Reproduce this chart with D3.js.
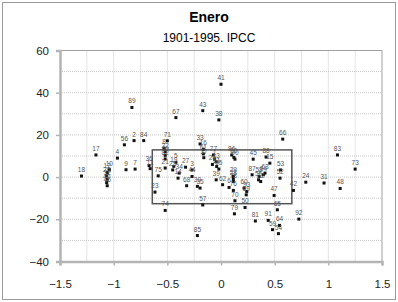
<!DOCTYPE html>
<html>
<head>
<meta charset="utf-8">
<script src="https://cdn.jsdelivr.net/npm/d3@7"></script>
<style>
    body { margin: 0; background: #fff; }
    svg { display: block; font-family: "Liberation Sans", Arial, sans-serif; }
</style>
</head>
<body>
<svg id="chart" width="398" height="302"></svg>
<script>
// year index (1 = 1901 ... 95 = 1995); label of each point is its index + 1
let tempX = [
    -0.06, -0.81, -0.27, -0.965, -0.42, 0.075, -0.80, -0.53, -0.885, -1.04,
    -0.66, -1.06, -0.045, -0.40, 0.455, -0.165, -1.165, -1.30, -0.44, -0.08,
    -0.52, -0.52, -0.615, 0.79, -0.45, -1.065, -0.33, 0.115, 0.115, -0.22,
    0.96, -1.06, -0.195, -0.39, -0.195, -0.67, -0.16, -0.02, -0.045, -1.065,
    0.0, 0.675, -0.17, -0.27, 0.30, -1.06, 0.495, 1.11, -0.52, 0.224,
    -0.04, 0.55, 0.555, 0.535, 0.35, -0.90, -0.17, 0.355, 0.48, 0.215,
    -0.165, 0.015, 0.41, 0.545, 0.525, 0.575, -0.42, -0.32, 0.235, 0.13,
    -0.50, 0.37, 1.25, -0.52, -0.585, 0.115, -0.07, 0.115, 0.125, 0.12,
    0.32, -0.52, 1.085, -0.72, -0.22, 0.10, 0.29, 0.42, -0.83, 0.13,
    0.44, 0.725, 0.24, 0.395, -0.02
];
let precipY = [
    8.5, 17.3, 3.4, 9.0, 7.0, -4.9, 3.8, 13.7, 3.5, 3.5,
    4.0, 2.2, 7.2, -0.5, 6.6, 13.2, 10.5, 0.5, 5.1, 6.0,
    4.3, 12.0, -7.1, -2.4, 3.4, 0.6, 4.7, -1.0, 0.3, -4.4,
    -2.8, -1.0, 15.7, 1.9, -5.2, 5.5, 9.2, 27.1, -1.3, -2.6,
    44.0, -6.3, 31.5, 0.3, 8.5, -4.1, -8.7, -5.4, 10.3, -14.4,
    5.0, -0.5, 3.4, -26.8, -1.3, 15.3, -13.2, 0.3, -24.9, -5.2,
    11.0, -3.6, 1.9, -22.9, -15.5, 18.0, 28.2, -4.1, -8.4, -11.2,
    17.2, -2.1, 3.8, -15.8, 0.6, -6.3, 10.5, -2.1, -17.4, 9.3,
    -20.8, 8.6, 10.5, 17.3, -27.7, 10.5, 1.1, 9.5, 33.0, 8.5,
    -20.5, -19.9, -6.8, 1.1, 3.8
];

let xTicks = [-1.5, -1, -0.5, 0, 0.5, 1, 1.5];
let yTicks = [-40, -20, 0, 20, 40, 60];
let xGrid = [-1.25, -1, -0.75, -0.5, -0.25, 0, 0.25, 0.5, 0.75, 1, 1.25];
let yGrid = [-30, -20, -10, 0, 10, 20, 30, 40, 50];

// box drawn round the central cloud
let boxX = [-0.64, 0.66];
let boxY = [-12.6, 12.9];

let title = 'Enero';
let subtitle = '1901-1995. IPCC';

let svg = d3.select('#chart');

let x = d3.scaleLinear().domain([-1.5, 1.5]).range([60, 382]);
let y = d3.scaleLinear().domain([-40, 60]).range([261.5, 50.5]);

// outer frame
svg.append('rect')
    .attr('x', 2.5).attr('y', 2.5)
    .attr('width', 393).attr('height', 297)
    .attr('fill', 'none')
    .attr('stroke', '#9a9a9a');

svg.append('text')
    .attr('x', 209).attr('y', 22)
    .attr('text-anchor', 'middle')
    .attr('font-size', 14).attr('font-weight', 'bold')
    .text(title);

svg.append('text')
    .attr('x', 209).attr('y', 41.5)
    .attr('text-anchor', 'middle')
    .attr('font-size', 12)
    .text(subtitle);

// dotted grid
svg.append('g')
    .selectAll('line')
    .data(xGrid)
    .join('line')
    .attr('x1', d => x(d)).attr('x2', d => x(d))
    .attr('y1', y(60)).attr('y2', y(-40))
    .attr('stroke', '#c8c8c8')
    .attr('stroke-dasharray', '1,1');

svg.append('g')
    .selectAll('line')
    .data(yGrid)
    .join('line')
    .attr('x1', x(-1.5)).attr('x2', x(1.5))
    .attr('y1', d => y(d)).attr('y2', d => y(d))
    .attr('stroke', '#c8c8c8')
    .attr('stroke-dasharray', '1,1');

// top and right border
svg.append('path')
    .attr('d', `M${x(-1.5)},${y(60)}H${x(1.5)}V${y(-40)}`)
    .attr('fill', 'none')
    .attr('stroke', '#a0a0a0');

// axes
let xAxis = svg.append('g')
    .attr('transform', `translate(0,${y(-40)})`)
    .call(d3.axisBottom(x).tickValues(xTicks).tickSize(4).tickPadding(14).tickFormat(d3.format('')));

let yAxis = svg.append('g')
    .attr('transform', `translate(${x(-1.5)},0)`)
    .call(d3.axisLeft(y).tickValues(yTicks).tickSize(4).tickPadding(7));

[xAxis, yAxis].forEach(a => {
    a.select('.domain').attr('stroke', '#b4b4b4').attr('stroke-width', 2.5);
    a.selectAll('.tick line').attr('stroke', '#b4b4b4').attr('stroke-width', 1.5);
    a.selectAll('.tick text')
        .attr('font-size', 11.5)
        .attr('font-family', '"Liberation Sans", Arial, sans-serif')
        .attr('fill', '#222');
});

// box
svg.append('rect')
    .attr('x', x(boxX[0]))
    .attr('y', y(boxY[1]))
    .attr('width', x(boxX[1]) - x(boxX[0]))
    .attr('height', y(boxY[0]) - y(boxY[1]))
    .attr('fill', 'none')
    .attr('stroke', '#555')
    .attr('stroke-width', 1.5);

let points = tempX.map((v, i) => ({label: i + 1, x: v, y: precipY[i]}));

let pts = svg.append('g');

pts.selectAll('rect')
    .data(points)
    .join('rect')
    .attr('x', d => x(d.x) - 1.5)
    .attr('y', d => y(d.y) - 1.5)
    .attr('width', 3)
    .attr('height', 3)
    .attr('fill', '#111');

pts.selectAll('text')
    .data(points)
    .join('text')
    .attr('x', d => x(d.x))
    .attr('y', d => y(d.y) - 4)
    .attr('text-anchor', 'middle')
    .attr('font-size', 6.5)
    .attr('fill', '#555')
    .text(d => d.label);
</script>
</body>
</html>
